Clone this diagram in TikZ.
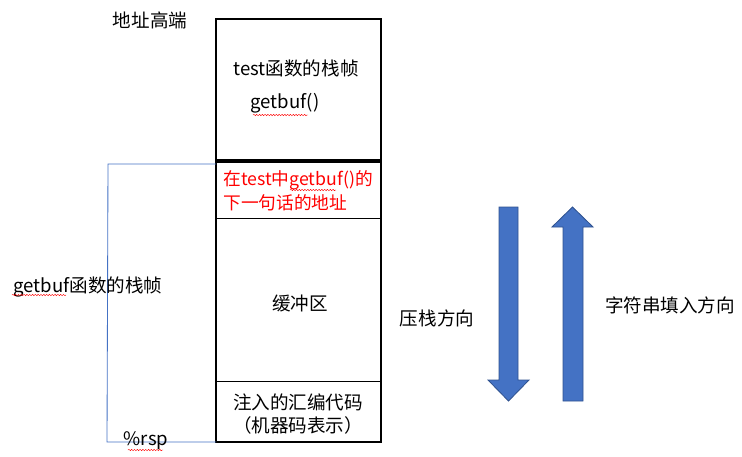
\documentclass[tikz,border=0pt]{standalone}
\usepackage{fontspec}
\setmainfont{Noto Sans CJK SC}
\usetikzlibrary{decorations.pathmorphing}
\definecolor{boxblue}{HTML}{4472C4}
\definecolor{edgeblue}{HTML}{2F528F}

\begin{document}
\begin{tikzpicture}[x=0.025cm,y=-0.025cm,
  every node/.style={font=\fontsize{13.2}{16}\selectfont, inner sep=0pt},
  squiggle/.style={red, line width=0.3pt, decorate,
    decoration={snake, amplitude=0.5pt, segment length=2pt}},
  bigarrow/.style={fill=boxblue, draw=edgeblue, line width=0.6pt}]
  \useasboundingbox (0,0) rectangle (742,456);
  % stack box
  \draw[line width=1.8pt] (216,19) rectangle (381,442);
  \draw[line width=2.6pt] (216,161) -- (381,161);
  \foreach \y in {218,381}{
     \draw[line width=0.7pt] (216,\y) -- (381,\y);
  }
  % texts in the box
  \node (top) at (150,20) {地址高端};
  \node (testframe) at (296,68) {test函数的栈帧};
  \node (getbufcall) at (285,103) {getbuf()};
  \node[red, anchor=west, font=\fontsize{12.6}{16}\selectfont] (retaddr1) at (223,180) {在test中getbuf()的};
  \node[red, anchor=west, font=\fontsize{12.6}{16}\selectfont] (retaddr2) at (223,203) {下一句话的地址};
  \node (buffer) at (300,303) {缓冲区};
  \node (inject1) at (298,402) {注入的汇编代码};
  \node (inject2) at (298,425) {（机器码表示）};
  % getbuf frame bracket
  \coordinate (ftop) at (216,164);
  \coordinate (fbot) at (216,442);
  \draw[boxblue, line width=0.6pt] (ftop) -- ++(-108,0) -- ++(-1,278) -- (fbot);
  \node (frame) at (88,287) {getbuf函数的栈帧};
  \node (rsp) at (146,441) {\%rsp};
  % spell-check marks
  \draw[squiggle] (253,115) -- (308,115);
  \draw[squiggle] (290,190) -- (336,190);
  \draw[squiggle] (12,295) -- (66,295);
  \draw[squiggle] (128,450) -- (163,450);
  % direction arrows
  \draw[bigarrow] (499,207) -- (518,207) -- (518,380) -- (529,380) -- (508.5,401)
     -- (488,380) -- (499,380) -- cycle;
  \draw[bigarrow] (563,401) -- (583,401) -- (583,227) -- (593,227) -- (572.5,207)
     -- (552,227) -- (563,227) -- cycle;
  \node (push) at (437,318) {压栈方向};
  \node (fill) at (670,305) {字符串填入方向};
\end{tikzpicture}
\end{document}
